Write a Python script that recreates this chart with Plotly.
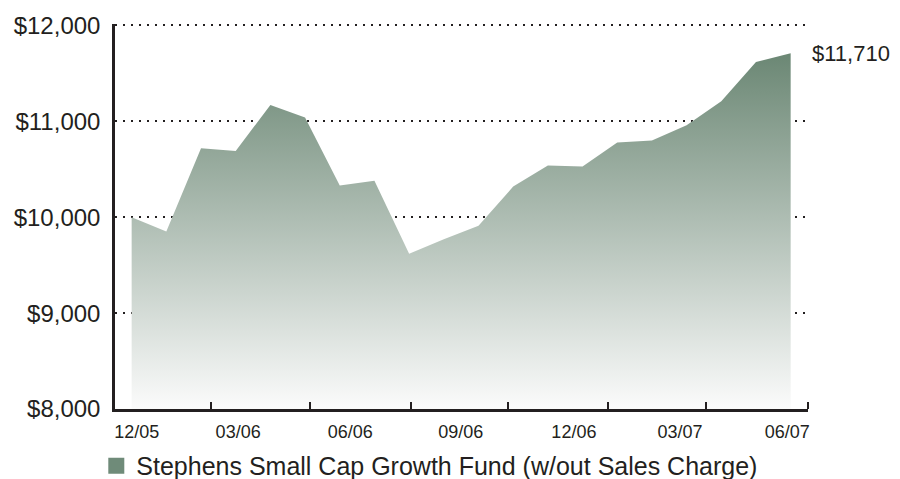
import plotly.graph_objects as go

# ---- data ----
period = list(range(20))
fund_values = [10000, 9850, 10720, 10690, 11170, 11040, 10330, 10380, 9620, 9770,
               9910, 10320, 10540, 10530, 10780, 10800, 10960, 11210, 11620, 11710]
date_labels = ["12/05", "03/06", "06/06", "09/06", "12/06", "03/07", "06/07"]
date_label_pos = [0.15, 3.07, 6.30, 9.49, 12.75, 15.81, 18.90]
tick_mark_pos = [2.29, 5.14, 8.05, 10.85, 13.73, 16.56, 19.49]
y_ticks = [8000, 9000, 10000, 11000, 12000]
y_tick_labels = ["$8,000", "$9,000", "$10,000", "$11,000", "$12,000"]
series_name = "Stephens Small Cap Growth Fund (w/out Sales Charge)"
end_label = "$11,710"

FONT = "Liberation Sans, Arial, sans-serif"
DARK = "#231f20"
GREEN = "#6b8774"

fig = go.Figure()
fig.add_trace(go.Scatter(
    x=period, y=fund_values, mode="lines", fill="tozeroy",
    line=dict(width=0, color=GREEN),
    fillgradient=dict(type="vertical", start=8000, stop=11710,
                      colorscale=[[0, "#fbfbfb"], [1, GREEN]]),
    showlegend=False, hoverinfo="skip",
))
fig.add_trace(go.Scatter(
    x=[None], y=[None], mode="markers", name=series_name,
    marker=dict(symbol="square", size=16, color="#6f8b79"),
))

fig.add_annotation(x=period[-1], y=fund_values[-1], text=end_label,
                   xref="x", yref="y", xanchor="left", yanchor="middle",
                   xshift=19, showarrow=False,
                   font=dict(family=FONT, size=22, color=DARK))

fig.update_layout(
    width=900, height=479,
    margin=dict(l=115, r=92, t=24, b=70, autoexpand=False),
    paper_bgcolor="white", plot_bgcolor="white",
    font=dict(family=FONT, color=DARK),
    showlegend=True,
    legend=dict(orientation="h", xref="container", yref="paper",
                x=0.107, xanchor="left", y=-0.088, yanchor="top",
                font=dict(family=FONT, size=25, color=DARK),
                bgcolor="rgba(0,0,0,0)", itemsizing="trace"),
    xaxis=dict(
        range=[-0.48, 19.5], showgrid=False, zeroline=False,
        showline=True, linecolor=DARK, linewidth=2.5,
        tickmode="array", tickvals=date_label_pos, ticktext=date_labels,
        ticks="", ticklabelstandoff=5,
        tickfont=dict(family=FONT, size=18, color=DARK),
        minor=dict(tickmode="array", tickvals=tick_mark_pos, ticks="inside",
                   ticklen=7, tickwidth=2, tickcolor=DARK, showgrid=False),
    ),
    yaxis=dict(
        range=[8000, 12015], tickmode="array", tickvals=y_ticks,
        ticktext=y_tick_labels,
        showgrid=True, gridcolor=DARK, gridwidth=2, griddash="2px,6px",
        zeroline=False, showline=True, linecolor=DARK, linewidth=2.5,
        ticks="", ticklabelstandoff=7,
        tickfont=dict(family=FONT, size=24, color=DARK),
    ),
)

fig.write_html("out.html", config={"displayModeBar": False},
               post_script="document.body.style.margin='0';")
